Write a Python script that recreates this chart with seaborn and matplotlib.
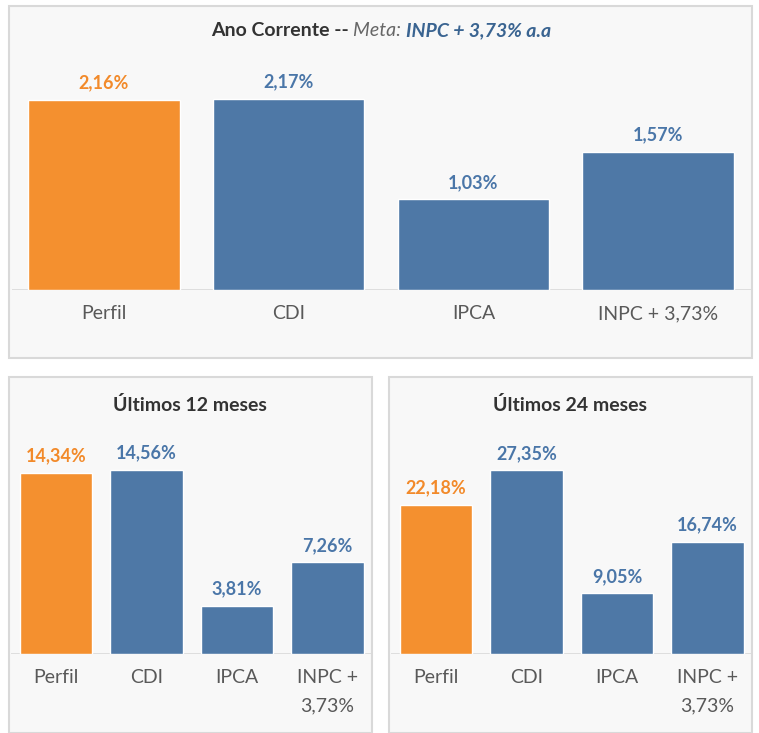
import matplotlib
matplotlib.use("Agg")
import matplotlib.pyplot as plt
from matplotlib.patches import Rectangle
import seaborn as sns

# data
categories = ["Perfil", "CDI", "IPCA", "INPC + 3,73%"]
categories_wrap = ["Perfil", "CDI", "IPCA", "INPC +\n3,73%"]
ano_corrente = [2.16, 2.17, 1.03, 1.57]
ultimos_12 = [14.34, 14.56, 3.81, 7.26]
ultimos_24 = [22.18, 27.35, 9.05, 16.74]

ORANGE = "#F4902F"
BLUE = "#4E78A6"
ORANGE_TXT = "#F28A2A"
BLUE_TXT = "#4A76A8"
palette = [ORANGE, BLUE, BLUE, BLUE]
label_colors = [ORANGE_TXT, BLUE_TXT, BLUE_TXT, BLUE_TXT]

sns.set_theme(style="white")
plt.rcParams["font.family"] = ["Lato", "DejaVu Sans"]

W, H = 759, 733
fig = plt.figure(figsize=(W / 100, H / 100), dpi=100)
fig.patch.set_facecolor("white")


def px_box(x0, y0, x1, y1):
    # pixel coords (top-left origin) -> figure fraction
    return [x0 / W, 1 - y1 / H, (x1 - x0) / W, (y1 - y0) / H]


# panel backgrounds
for (x0, y0, x1, y1) in [(9, 6, 752, 358), (9, 377, 372, 733), (389, 377, 752, 733)]:
    l, b, w, h = px_box(x0, y0, x1, y1)
    fig.patches.append(Rectangle((l, b), w, h, transform=fig.transFigure,
                                 facecolor="#F8F8F8", edgecolor="#D9D9D9",
                                 linewidth=1.5, zorder=-5))


def draw_panel(rect, labels, values, ymax, width):
    ax = fig.add_axes(rect)
    ax.set_facecolor("none")
    sns.barplot(x=labels, y=values, hue=labels, palette=palette, legend=False,
                width=width, saturation=1, ax=ax)
    for i, v in enumerate(values):
        ax.annotate(f"{v:.2f}%".replace(".", ","), (i, v), xytext=(0, 6),
                    textcoords="offset points", ha="center", va="bottom",
                    fontsize=13, fontweight="bold", color=label_colors[i])
    ax.set_ylim(0, ymax)
    ax.set_xlim(-0.5, len(values) - 0.5)
    ax.axhline(0, color="#D9D9D9", linewidth=1.2, zorder=0)
    ax.set_yticks([])
    ax.set_xlabel("")
    ax.set_ylabel("")
    ax.tick_params(axis="x", length=0, pad=11, labelsize=14, labelcolor="#595959")
    for lbl in ax.get_xticklabels():
        lbl.set_linespacing(1.8)
        lbl.set_va("top")
    sns.despine(ax=ax, left=True, bottom=True)
    return ax


draw_panel(px_box(11.5, 50, 750.5, 290), categories, ano_corrente, 240 / 88, 0.82)
draw_panel(px_box(10.75, 420, 372.75, 654), categories_wrap, ultimos_12, 234 / 12.65, 0.8)
draw_panel(px_box(390.75, 420, 752.75, 654), categories_wrap, ultimos_24, 234 / 6.72, 0.8)

# titles
fig.text(190 / W, 1 - 405 / H, "Últimos 12 meses", ha="center", va="center",
         fontsize=14, fontweight="bold", color="#333333")
fig.text(570 / W, 1 - 405 / H, "Últimos 24 meses", ha="center", va="center",
         fontsize=14, fontweight="bold", color="#333333")

# mixed-style top title
parts = [("Ano Corrente -- ", "normal", "bold", "#333333"),
         ("Meta: ", "italic", "normal", "#666666"),
         ("INPC + 3,73% a.a", "italic", "bold", "#3A6491")]
renderer = fig.canvas.get_renderer()
texts = []
for s, style, weight, color in parts:
    t = fig.text(0, 1 - 31 / H, s, ha="left", va="center", fontsize=14,
                 fontstyle=style, fontweight=weight, color=color)
    texts.append(t)
widths = [t.get_window_extent(renderer).width for t in texts]
# trailing spaces are included in the extent measurement
x = 381 - sum(widths) / 2
for t, w in zip(texts, widths):
    t.set_x(x / W)
    x += w

fig.savefig("out.png", dpi=100, facecolor="white")
